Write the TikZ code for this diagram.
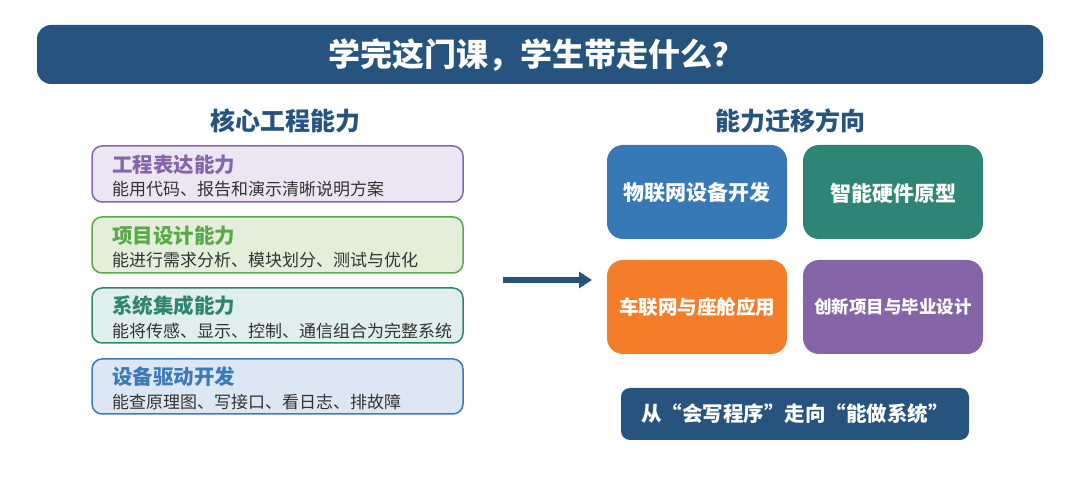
\documentclass[tikz,border=0pt]{standalone}
\usepackage{fontspec}
\setmainfont{Noto Sans CJK SC}
\usetikzlibrary{arrows.meta}
\definecolor{navy}{HTML}{27547E}
\definecolor{purp}{HTML}{8467A8}
\definecolor{purpfill}{HTML}{ECE6F4}
\definecolor{grn}{HTML}{5BA84A}
\definecolor{grnfill}{HTML}{E3EFDB}
\definecolor{teal}{HTML}{2F8572}
\definecolor{tealfill}{HTML}{E0EFEB}
\definecolor{blu}{HTML}{3D7BB8}
\definecolor{blufill}{HTML}{DDE7F3}
\definecolor{bluA}{HTML}{3779B7}
\definecolor{tealB}{HTML}{2F8575}
\definecolor{orgC}{HTML}{F47D2A}
\definecolor{purD}{HTML}{8565A8}
\definecolor{subgray}{HTML}{333333}
\tikzset{
  skillbox/.style={draw=#1, line width=1.5pt, rounded corners=10pt},
  skilltitle/.style={anchor=west, inner sep=0pt, font=\fontsize{20.5}{20.5}\selectfont\bfseries, text=#1},
  skillsub/.style={anchor=west, inner sep=0pt, font=\fontsize{17}{17}\selectfont, text=subgray},
  tile/.style={fill=#1, rounded corners=16pt},
  tiletext/.style={text=white, font=\bfseries\fontsize{#1}{#1}\selectfont, inner sep=0pt},
  heading/.style={text=navy, font=\bfseries\fontsize{25}{25}\selectfont, inner sep=0pt}
}
\begin{document}
\begin{tikzpicture}[x=1pt,y=-1pt]
\useasboundingbox (0,0) rectangle (1080,486);
% title bar
\fill[navy, rounded corners=14pt] (37,25) rectangle (1043,84);
\node[text=white, font=\bfseries\fontsize{32}{32}\selectfont, inner sep=0pt] (title) at (536,55) {学完这门课，学生带走什么？};
% headings
\node[heading] (hl) at (285,121) {核心工程能力};
\node[heading] (hr) at (790,121) {能力迁移方向};
% left boxes
\filldraw[skillbox=purp, fill=purpfill] (92,146) rectangle (463,202);
\node[skilltitle=purp] (t1) at (112,165) {工程表达能力};
\node[skillsub] (s1) at (112,189) {能用代码、报告和演示清晰说明方案};
\filldraw[skillbox=grn, fill=grnfill] (92,217) rectangle (463,273);
\node[skilltitle=grn] (t2) at (112,236) {项目设计能力};
\node[skillsub] (s2) at (112,260) {能进行需求分析、模块划分、测试与优化};
\filldraw[skillbox=teal, fill=tealfill] (92,288) rectangle (463,343);
\node[skilltitle=teal] (t3) at (112,306) {系统集成能力};
\node[skillsub] (s3) at (112,331) {能将传感、显示、控制、通信组合为完整系统};
\filldraw[skillbox=blu, fill=blufill] (92,359) rectangle (463,414);
\node[skilltitle=blu] (t4) at (112,377) {设备驱动开发};
\node[skillsub] (s4) at (112,402) {能查原理图、写接口、看日志、排故障};
% arrow
\coordinate (a0) at (503,280);
\coordinate (a1) at (592,280);
\draw[navy, line width=5.5pt, -{Triangle[length=13pt,width=16pt]}] (a0) -- (a1);
% tiles
\fill[tile=bluA] (607,145) rectangle (787,239);
\node[tiletext=21] (ta) at (697,193) {物联网设备开发};
\fill[tile=tealB] (803,145) rectangle (983,239);
\node[tiletext=21] (tb) at (893,193) {智能硬件原型};
\fill[tile=orgC] (607,260) rectangle (787,354);
\node[tiletext=19.5] (tc) at (697,307) {车联网与座舱应用};
\fill[tile=purD] (803,260) rectangle (983,354);
\node[tiletext=17.5] (td) at (893,307) {创新项目与毕业设计};
% banner
\fill[navy, rounded corners=9pt] (621,388) rectangle (969,440);
\node[tiletext=20.5] (bn) at (795,414) {从“会写程序”走向“能做系统”};
\end{tikzpicture}
\end{document}
